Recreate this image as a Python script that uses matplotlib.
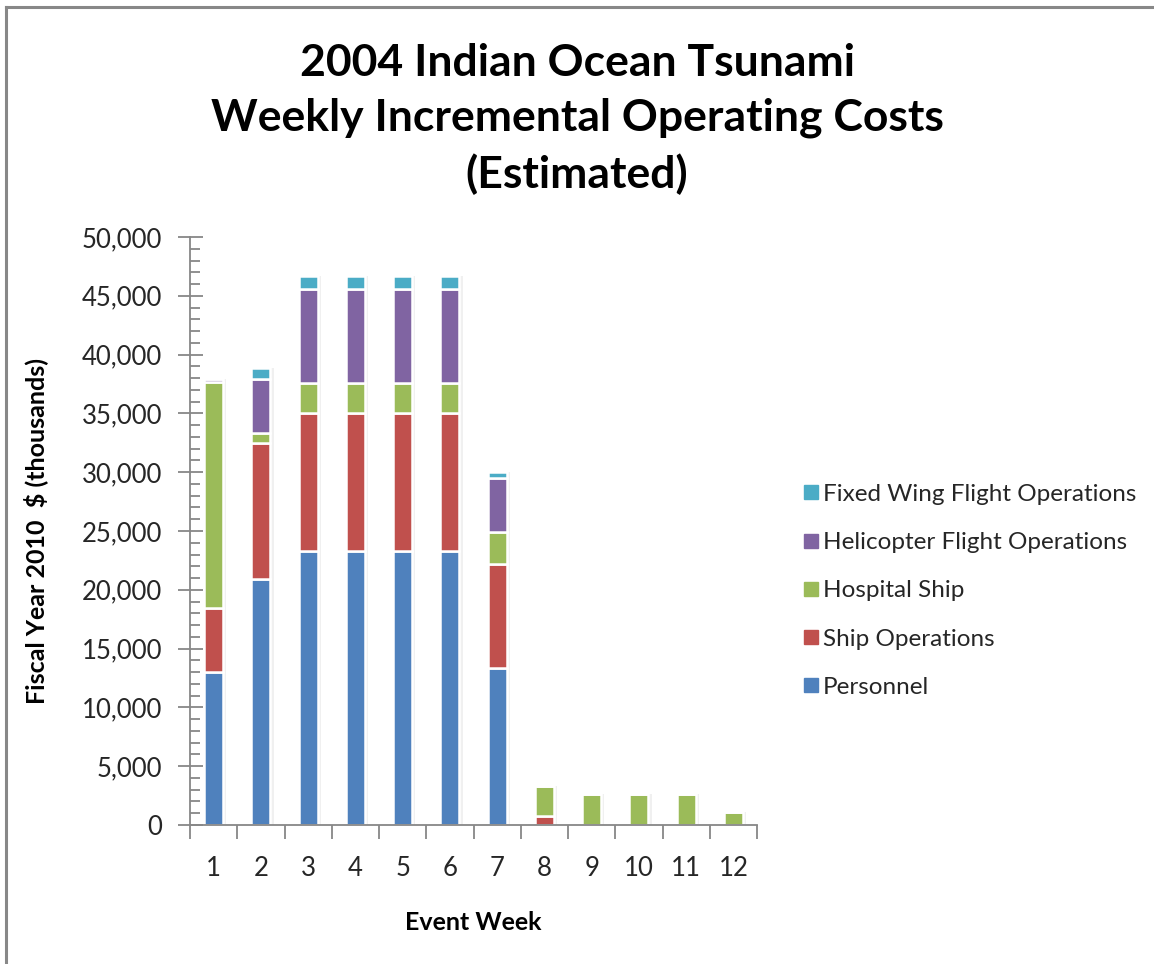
import numpy as np
import matplotlib
matplotlib.use('Agg')
import matplotlib.pyplot as plt
from matplotlib.lines import Line2D
from matplotlib.ticker import MultipleLocator, FuncFormatter

# Data (thousands of FY2010 dollars)
weeks = [1, 2, 3, 4, 5, 6, 7, 8, 9, 10, 11, 12]
personnel = [13000, 20900, 23300, 23300, 23300, 23300, 13350, 0, 0, 0, 0, 0]
ship_ops = [5450, 11600, 11700, 11700, 11700, 11700, 8850, 750, 0, 0, 0, 0]
hospital_ship = [19200, 800, 2600, 2600, 2600, 2600, 2700, 2600, 2600, 2600, 2600, 1100]
helicopter = [300, 4600, 8000, 8000, 8000, 8000, 4600, 0, 0, 0, 0, 0]
fixed_wing = [0, 1000, 1100, 1100, 1100, 1100, 500, 0, 0, 0, 0, 0]

series = [
    ('Personnel', personnel, '#4F81BD'),
    ('Ship Operations', ship_ops, '#C0504D'),
    ('Hospital Ship', hospital_ship, '#9BBB59'),
    ('Helicopter Flight Operations', helicopter, '#8064A2'),
    ('Fixed Wing Flight Operations', fixed_wing, '#4BACC6'),
]

plt.rcParams['font.family'] = ['Lato', 'DejaVu Sans']

fig = plt.figure(figsize=(11.54, 9.64), dpi=100)
ax = fig.add_axes([190 / 1154, 1 - 825 / 964, 567 / 1154, 588 / 964])

x = np.array(weeks)
bottom = np.zeros(len(weeks))
for name, vals, color in series:
    vals = np.array(vals, dtype=float)
    # soft shadow behind each bar
    ax.bar(x + 0.04, vals, width=0.46, bottom=bottom, color='#000000', alpha=0.06,
           linewidth=0, zorder=1)
    ax.bar(x, vals, width=0.4, bottom=bottom, color=color,
           edgecolor='white', linewidth=1.8, zorder=2, label=name)
    bottom += vals

ax.set_xlim(0.5, 12.5)
ax.set_ylim(0, 50000)

for s in ['top', 'right']:
    ax.spines[s].set_visible(False)
for s in ['left', 'bottom']:
    ax.spines[s].set_color('#878787')
    ax.spines[s].set_linewidth(1.3)

ax.yaxis.set_major_locator(MultipleLocator(5000))
ax.yaxis.set_minor_locator(MultipleLocator(1000))
ax.yaxis.set_major_formatter(FuncFormatter(lambda v, p: f'{int(v):,}'))
ax.tick_params(axis='y', which='major', direction='inout', length=18, width=1.3,
               color='#878787', labelsize=18.5, pad=11, labelcolor='#262626')
ax.tick_params(axis='y', which='minor', direction='in', length=7, width=1.3,
               color='#878787')

ax.set_xticks(weeks)
ax.set_xticks(np.arange(0.5, 13, 1), minor=True)
ax.tick_params(axis='x', which='major', length=0, labelsize=18.5, pad=22,
               labelcolor='#262626')
ax.tick_params(axis='x', which='minor', direction='out', length=10, width=1.3,
               color='#878787')

ax.set_ylabel('Fiscal Year 2010  $ (thousands)', fontsize=18, fontweight='bold',
              labelpad=24)
ax.set_xlabel('Event Week', fontsize=18, fontweight='bold', labelpad=22)

fig.text(577 / 1154, 1 - 119 / 964,
         '2004 Indian Ocean Tsunami\nWeekly Incremental Operating Costs\n(Estimated)',
         ha='center', va='center', fontsize=32, fontweight='bold',
         linespacing=1.45, color='black')

leg_handles = [Line2D([], [], marker='s', linestyle='none', markersize=10,
                      markerfacecolor=c, markeredgecolor=c)
               for _, _, c in reversed(series)]
leg_labels = [n for n, _, _ in reversed(series)]
fig.legend(leg_handles, leg_labels, loc='upper left',
           bbox_to_anchor=(777 / 1154, 1 - 462 / 964), frameon=False,
           fontsize=17.5, labelspacing=1.12, handletextpad=0.0,
           handlelength=1.0, labelcolor='#262626')

# chart area border (top and left only visible)
fig.add_artist(Line2D([6 / 1154, 1], [1 - 7 / 964, 1 - 7 / 964],
                      transform=fig.transFigure, color='#888888', linewidth=2.2))
fig.add_artist(Line2D([6 / 1154, 6 / 1154], [0, 1 - 7 / 964],
                      transform=fig.transFigure, color='#888888', linewidth=2.2))

fig.savefig('out.png', dpi=100, facecolor='white')
